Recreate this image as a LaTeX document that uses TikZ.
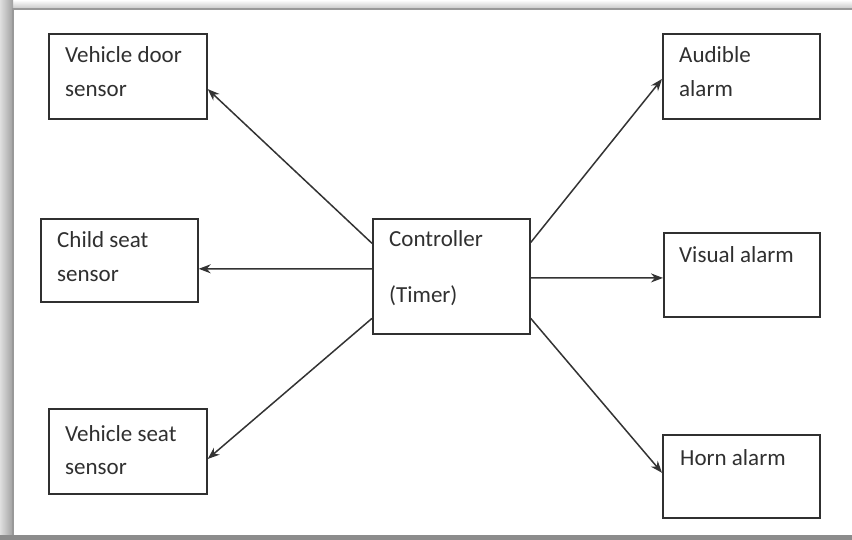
\documentclass[tikz,border=0pt]{standalone}
\usepackage{fontspec}
\setmainfont{Carlito}
\usetikzlibrary{arrows.meta,calc}
\definecolor{ink}{HTML}{303030}
\definecolor{wire}{HTML}{333333}
\definecolor{shadowband}{HTML}{8C8C8C}
\begin{document}
\begin{tikzpicture}[x=1pt,y=-1pt,
  blk/.style={draw=ink,line width=1.7pt,rectangle,inner sep=0pt,anchor=north west},
  lbl/.style={anchor=base west,inner sep=0pt,text=ink,font=\fontsize{23}{34}\selectfont},
  link/.style={draw=wire,line width=1.5pt,-{Stealth[length=12pt,width=9pt]}}]
  \useasboundingbox (0,0) rectangle (852,540);
  % page shadow and sheet
  \fill[gray!40] (0,0) rectangle (852,540);
  \shade[top color=white,bottom color=gray!50] (0,0) rectangle (852,10);
  \shade[left color=gray!25,right color=gray!75] (0,0) rectangle (13,540);
  \fill[shadowband] (0,535) rectangle (852,540);
  \fill[white] (13,9) rectangle (852,535);
  \draw[gray!80,line width=2pt] (13,535) -- (13,9) -- (852,9);

  % blocks
  \node[blk,minimum width=158pt,minimum height=85pt] (door) at (48,33) {};
  \node[blk,minimum width=157pt,minimum height=83pt] (child) at (40,218) {};
  \node[blk,minimum width=158pt,minimum height=85pt] (seat) at (48,408) {};
  \node[blk,minimum width=157pt,minimum height=115pt] (ctrl) at (372,218) {};
  \node[blk,minimum width=157pt,minimum height=85pt] (aud) at (662,33) {};
  \node[blk,minimum width=156pt,minimum height=84pt] (vis) at (663,232) {};
  \node[blk,minimum width=157pt,minimum height=83pt] (horn) at (662,434) {};

  % labels
  \node[lbl] (doorA) at (65,63) {Vehicle door};
  \node[lbl] (doorB) at (65,97) {sensor};
  \node[lbl] (childA) at (57,248) {Child seat};
  \node[lbl] (childB) at (57,282) {sensor};
  \node[lbl] (seatA) at (65,441) {Vehicle seat};
  \node[lbl] (seatB) at (65,474) {sensor};
  \node[lbl] (ctrlA) at (389,247) {Controller};
  \node[lbl] (ctrlB) at (389,303) {(Timer)};
  \node[lbl] (audA) at (679,63) {Audible};
  \node[lbl] (audB) at (679,97) {alarm};
  \node[lbl] (visA) at (679,263) {Visual alarm};
  \node[lbl] (hornA) at (680,465) {Horn alarm};

  % connectors
  \draw[link] ($(ctrl.north west)!0.217!(ctrl.south west)$) -- ($(door.north east)!0.647!(door.south east)$);
  \draw[link] ($(ctrl.north west)!0.435!(ctrl.south west)$) -- ($(child.north east)!0.6!(child.south east)$);
  \draw[link] ($(ctrl.north west)!0.86!(ctrl.south west)$) -- ($(seat.north east)!0.588!(seat.south east)$);
  \draw[link] ($(ctrl.north east)!0.21!(ctrl.south east)$) -- ($(aud.north west)!0.53!(aud.south west)$);
  \draw[link] ($(ctrl.north east)!0.513!(ctrl.south east)$) -- ($(vis.north west)!0.536!(vis.south west)$);
  \draw[link] ($(ctrl.north east)!0.86!(ctrl.south east)$) -- ($(horn.north west)!0.458!(horn.south west)$);
\end{tikzpicture}
\end{document}
